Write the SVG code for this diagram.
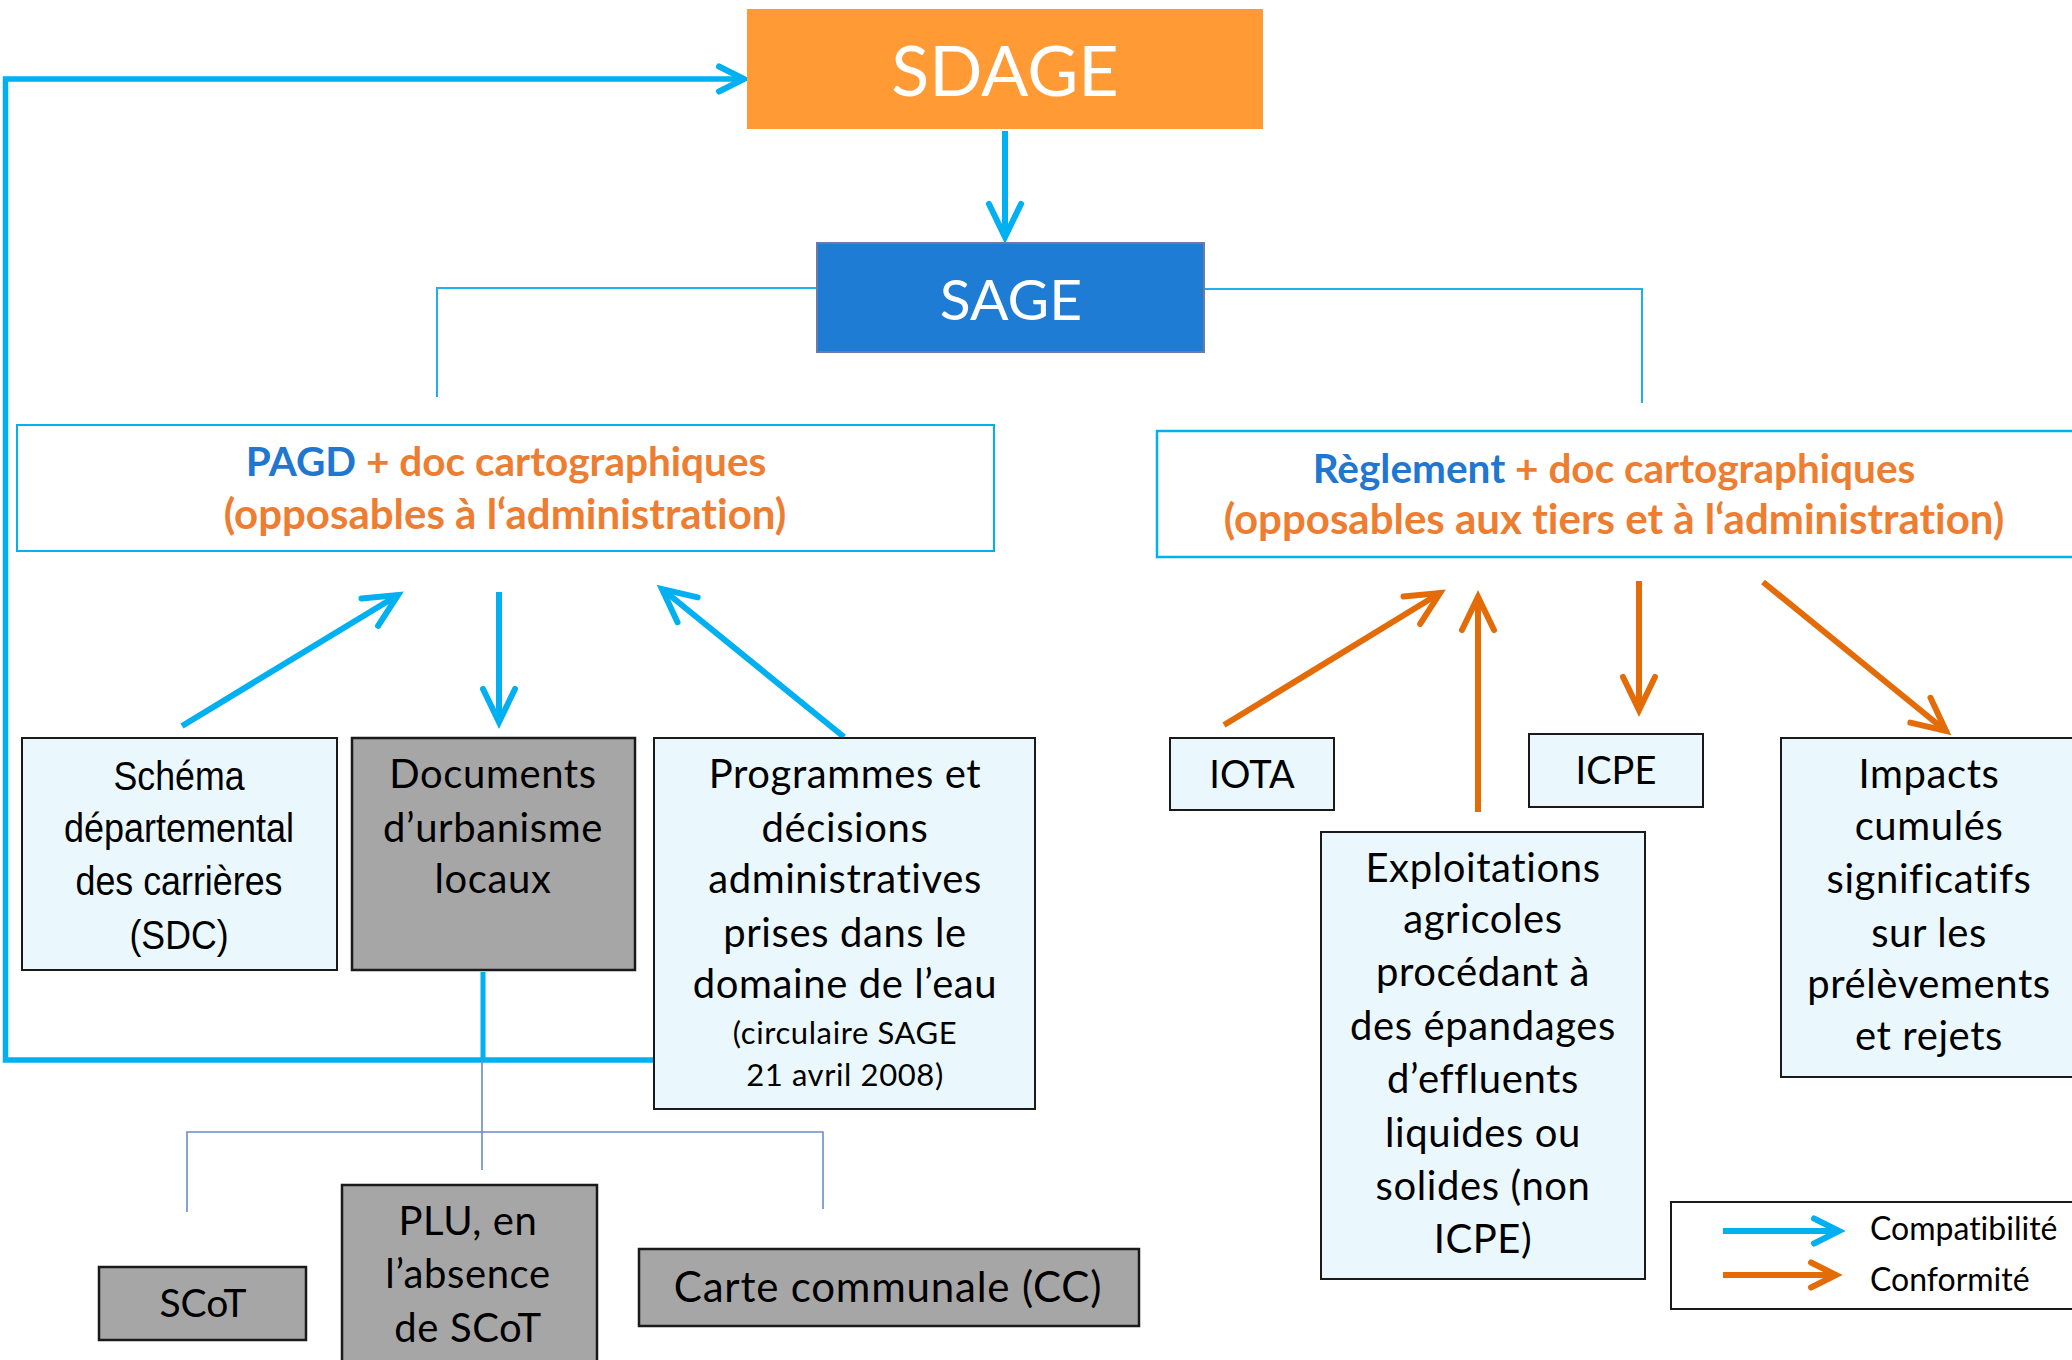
<svg xmlns="http://www.w3.org/2000/svg" width="2072" height="1360" viewBox="0 0 2072 1360">
<style>
text{font-variant-ligatures:none}
.t{font-family:Lato,"Open Sans","Liberation Sans",sans-serif;fill:#000;text-anchor:middle}
.b{font-size:40px;letter-spacing:0.6px}
.n{font-family:"Liberation Sans",Arial,sans-serif;fill:#000;text-anchor:middle}
.h{font-family:Lato,"Open Sans","Liberation Sans",sans-serif;font-weight:bold;font-size:42px;text-anchor:middle;fill:#ED7D31}
.h1{font-size:40.5px}
.hb{fill:#1F77D0}
.lb{fill:#EAF7FD;stroke:#1a1a1a;stroke-width:2}
.gr{fill:#A6A6A6;stroke:#1a1a1a;stroke-width:2.5}
.cb{fill:none;stroke:#00B0F0;stroke-width:6}
.co{fill:none;stroke:#E36C09;stroke-width:6}
.thin{fill:none;stroke:#1EB0EA;stroke-width:2}
.br{fill:none;stroke:#6A8AD0;stroke-width:1.6}
</style>
<defs>
<marker id="ab" markerUnits="userSpaceOnUse" markerWidth="50" markerHeight="50" viewBox="-40 -25 50 50" refX="0" refY="0" orient="auto">
<path d="M-33,-16 L0,0 L-33,16" fill="none" stroke="#00B0F0" stroke-width="6" stroke-linecap="round"/>
</marker>
<marker id="ao" markerUnits="userSpaceOnUse" markerWidth="50" markerHeight="50" viewBox="-40 -25 50 50" refX="0" refY="0" orient="auto">
<path d="M-33,-16 L0,0 L-33,16" fill="none" stroke="#E36C09" stroke-width="6" stroke-linecap="round"/>
</marker>
<marker id="abs" markerUnits="userSpaceOnUse" markerWidth="40" markerHeight="40" viewBox="-32 -20 40 40" refX="0" refY="0" orient="auto">
<path d="M-25,-12.5 L0,0 L-25,12.5" fill="none" stroke="#00B0F0" stroke-width="6" stroke-linecap="round"/>
</marker>
<marker id="aos" markerUnits="userSpaceOnUse" markerWidth="40" markerHeight="40" viewBox="-32 -20 40 40" refX="0" refY="0" orient="auto">
<path d="M-25,-12.5 L0,0 L-25,12.5" fill="none" stroke="#E36C09" stroke-width="6" stroke-linecap="round"/>
</marker>
</defs>
<rect width="2072" height="1360" fill="#fff"/>

<g id="connectors">
<path class="thin" d="M817,288 H437 V397"/>
<path class="thin" d="M1204,289 H1642 V403"/>
<path d="M654,1060 H5.5 V79 H744" fill="none" stroke="#00B0F0" stroke-width="5.5" marker-end="url(#abs)"/>
<path d="M483,972 V1060" fill="none" stroke="#00B0F0" stroke-width="5"/>
<path class="cb" d="M1005,131 V237" marker-end="url(#ab)"/>
<path class="cb" d="M182,726 L398,595" marker-end="url(#ab)"/>
<path class="cb" d="M499,592 V722" marker-end="url(#ab)"/>
<path class="cb" d="M844,737 L662,589" marker-end="url(#ab)"/>
<path class="br" d="M482,1060 V1170"/>
<path class="br" d="M187,1212 V1132 H823 V1209"/>
<path class="co" d="M1224,725 L1440,593" marker-end="url(#ao)"/>
<path class="co" d="M1478,812 V597" marker-end="url(#ao)"/>
<path class="co" d="M1639,581 V710" marker-end="url(#ao)"/>
<path class="co" d="M1763,582 L1946,731" marker-end="url(#ao)"/>
</g>

<g id="sdage">
<rect x="747" y="9" width="516" height="120" fill="#FF9A35"/>
<text class="t" x="1005" y="96" font-size="70" style="fill:#fff">SDAGE</text>
</g>

<g id="sage">
<rect x="817" y="243" width="387" height="109" fill="#1E7CD5" stroke="#6B7BA8" stroke-width="2"/>
<text class="t" x="1011" y="320" font-size="57" style="fill:#fff">SAGE</text>
</g>

<g id="pagd">
<rect x="17" y="425" width="977" height="126" fill="#fff" stroke="#00B0F0" stroke-width="2"/>
<text class="h h1" x="506" y="476"><tspan class="hb">PAGD</tspan> + doc cartographiques</text>
<text class="h" x="505" y="529">(opposables à l‘administration)</text>
</g>

<g id="reglement">
<rect x="1157" y="431" width="925" height="126" fill="#fff" stroke="#00B0F0" stroke-width="2.5"/>
<text class="h h1" x="1614" y="483"><tspan class="hb">Règlement</tspan> + doc cartographiques</text>
<text class="h" x="1614" y="534">(opposables aux tiers et à l‘administration)</text>
</g>

<g id="sdc">
<rect class="lb" x="22" y="738" width="315" height="232"/>
<text class="n" font-size="41" x="179" y="790" textLength="131" lengthAdjust="spacingAndGlyphs">Schéma</text>
<text class="n" font-size="41" x="179" y="842" textLength="230" lengthAdjust="spacingAndGlyphs">départemental</text>
<text class="n" font-size="41" x="179" y="895" textLength="207" lengthAdjust="spacingAndGlyphs">des carrières</text>
<text class="n" font-size="41" x="179" y="949" textLength="99" lengthAdjust="spacingAndGlyphs">(SDC)</text>
</g>

<g id="documents">
<rect class="gr" x="352" y="738" width="283" height="232"/>
<text class="t b" x="493" y="788">Documents</text>
<text class="t b" x="493" y="842">d’urbanisme</text>
<text class="t b" x="493" y="893">locaux</text>
</g>

<g id="programmes">
<rect class="lb" x="654" y="738" width="381" height="371"/>
<text class="t b" x="845" y="788">Programmes et</text>
<text class="t b" x="845" y="842">décisions</text>
<text class="t b" x="845" y="893">administratives</text>
<text class="t b" x="845" y="947">prises dans le</text>
<text class="t b" x="845" y="998">domaine de l’eau</text>
<text class="t" font-size="31" letter-spacing="0.6" x="845" y="1044">(circulaire SAGE</text>
<text class="t" font-size="31" letter-spacing="0.6" x="845" y="1086">21 avril 2008)</text>
</g>

<g id="scot">
<rect class="gr" x="99" y="1267" width="207" height="73" stroke-width="3"/>
<text class="t" font-size="39" x="203" y="1317">SCoT</text>
</g>

<g id="plu">
<rect class="gr" x="342" y="1185" width="255" height="185" stroke-width="3"/>
<text class="t b" x="468" y="1235">PLU, en</text>
<text class="t b" x="468" y="1288">l’absence</text>
<text class="t b" x="468" y="1342">de SCoT</text>
</g>

<g id="cc">
<rect class="gr" x="639" y="1249" width="500" height="77" stroke-width="3"/>
<text class="t" font-size="42" letter-spacing="0.8" x="888" y="1302">Carte communale (CC)</text>
</g>

<g id="iota">
<rect class="lb" x="1170" y="738" width="164" height="72"/>
<text class="t" font-size="38" x="1252" y="788">IOTA</text>
</g>

<g id="icpe">
<rect class="lb" x="1529" y="734" width="174" height="73"/>
<text class="t" font-size="38" x="1616" y="784">ICPE</text>
</g>

<g id="exploitations">
<rect class="lb" x="1321" y="832" width="324" height="447"/>
<text class="t b" x="1483" y="882">Exploitations</text>
<text class="t b" x="1483" y="933">agricoles</text>
<text class="t b" x="1483" y="986">procédant à</text>
<text class="t b" x="1483" y="1040">des épandages</text>
<text class="t b" x="1483" y="1093">d’effluents</text>
<text class="t b" x="1483" y="1147">liquides ou</text>
<text class="t b" x="1483" y="1200">solides (non</text>
<text class="t b" x="1483" y="1253">ICPE)</text>
</g>

<g id="impacts">
<rect class="lb" x="1781" y="738" width="300" height="339"/>
<text class="t b" x="1929" y="788">Impacts</text>
<text class="t b" x="1929" y="840">cumulés</text>
<text class="t b" x="1929" y="893">significatifs</text>
<text class="t b" x="1929" y="947">sur les</text>
<text class="t b" x="1929" y="998">prélèvements</text>
<text class="t b" x="1929" y="1050">et rejets</text>
</g>

<g id="legend">
<rect x="1671" y="1202" width="410" height="107" fill="#fff" stroke="#1a1a1a" stroke-width="2"/>
<path d="M1723,1231 H1839" fill="none" stroke="#00B0F0" stroke-width="6" marker-end="url(#abs)"/>
<path d="M1723,1275 H1836" fill="none" stroke="#E36C09" stroke-width="6" marker-end="url(#aos)"/>
<text class="t" font-size="32" x="1870" y="1240" style="text-anchor:start">Compatibilité</text>
<text class="t" font-size="32" x="1870" y="1291" style="text-anchor:start">Conformité</text>
</g>
</svg>
